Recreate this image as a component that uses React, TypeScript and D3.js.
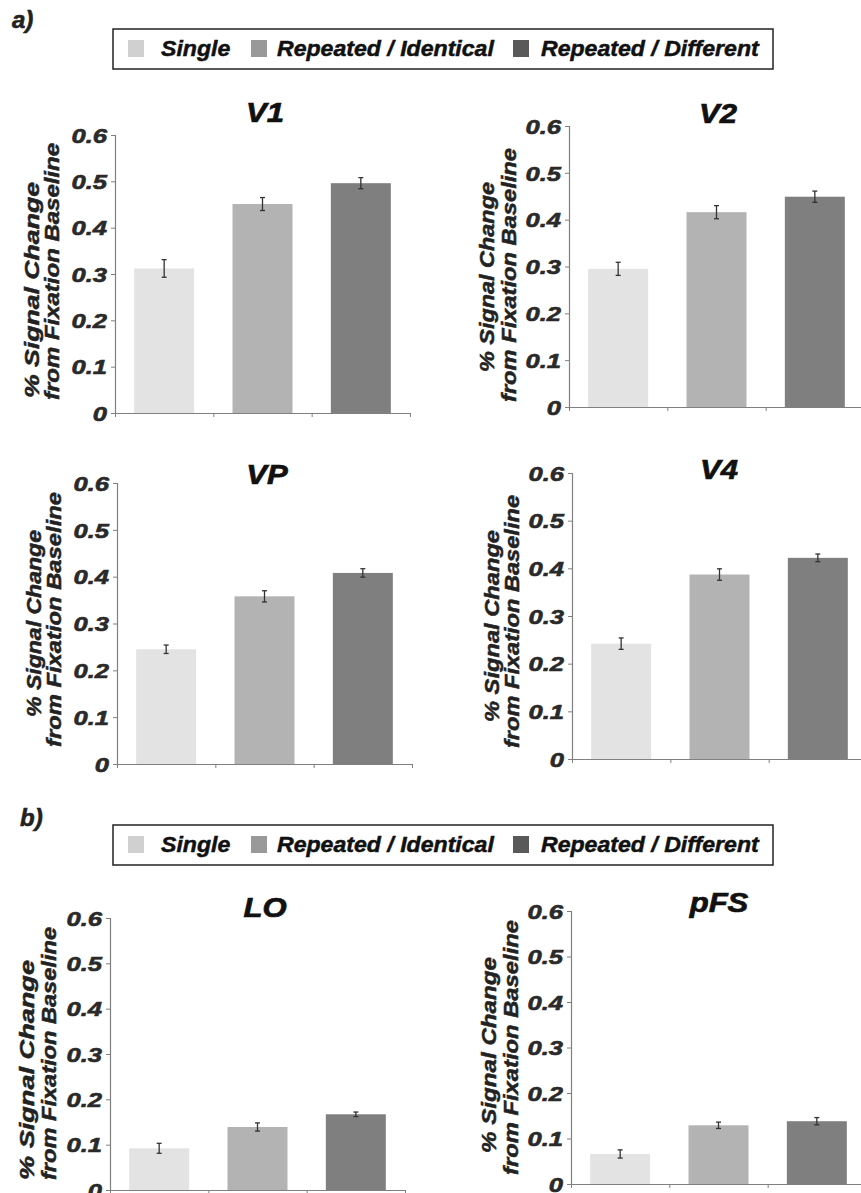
import React, { useEffect, useRef } from 'react';
import * as d3 from 'd3';

// conditions and regions
const categories = ['Single', 'Repeated / Identical', 'Repeated / Different'];
const regions = ['V1', 'V2', 'VP', 'V4', 'LO', 'pFS'];

// mean % signal change
const v1Means = [0.312, 0.451, 0.496];
const v2Means = [0.295, 0.416, 0.449];
const vpMeans = [0.245, 0.358, 0.408];
const v4Means = [0.242, 0.387, 0.422];
const loMeans = [0.092, 0.139, 0.167];
const pfsMeans = [0.066, 0.129, 0.138];

// error bar half-widths
const v1Errors = [0.019, 0.014, 0.012];
const v2Errors = [0.014, 0.014, 0.012];
const vpErrors = [0.009, 0.012, 0.009];
const v4Errors = [0.012, 0.012, 0.008];
const loErrors = [0.011, 0.009, 0.005];
const pfsErrors = [0.009, 0.007, 0.008];

const yTicks = [0, 0.1, 0.2, 0.3, 0.4, 0.5, 0.6];
const yTickLabels = ['0', '0.1', '0.2', '0.3', '0.4', '0.5', '0.6'];
const yLabelLines = ['% Signal Change', 'from Fixation Baseline'];
const sectionLabels = ['a)', 'b)'];

const barColors = ['#e3e3e3', '#b3b3b3', '#7f7f7f'];
const swatchColors = ['#d0d0d0', '#999999', '#595959'];
const FONT = '"Liberation Sans", Arial, sans-serif';
const INK = '#222';

// panel placement in the page
const panels = [
  { means: v1Means, errs: v1Errors, x0: 115, yTop: 135, yZero: 413, titleDx: 150, titleY: 122,
    lab: [[39, 398, 216], [59, 400, 257]] },
  { means: v2Means, errs: v2Errors, x0: 569, yTop: 126, yZero: 407, titleDx: 149, titleY: 123,
    lab: [[494, 372, 190], [516, 402, 254]] },
  { means: vpMeans, errs: vpErrors, x0: 117, yTop: 483, yZero: 764, titleDx: 150, titleY: 484,
    lab: [[41, 717, 187], [61, 747, 255]] },
  { means: v4Means, errs: v4Errors, x0: 572, yTop: 473, yZero: 759, titleDx: 147, titleY: 479,
    lab: [[499, 722, 192], [519, 748, 253]] },
  { means: loMeans, errs: loErrors, x0: 110, yTop: 918, yZero: 1190, titleDx: 155, titleY: 917,
    lab: [[34, 1180, 220], [56, 1180, 253]] },
  { means: pfsMeans, errs: pfsErrors, x0: 571, yTop: 911, yZero: 1184, titleDx: 148, titleY: 912,
    lab: [[496, 1153, 196], [518, 1175, 255]] },
];

const legends = [
  { x: 113, y: 29, label: [12, 28] },
  { x: 113, y: 825, label: [20, 826] },
];

// bold italic text, with a thin outline to mimic the heavier original face
const styleText = (sel: any, size: number, fill: string, weight = 0.5) =>
  sel
    .attr('font-family', FONT)
    .attr('font-weight', 'bold')
    .attr('font-style', 'italic')
    .attr('font-size', size)
    .attr('fill', fill)
    .attr('stroke', fill)
    .attr('stroke-width', weight);

const App = () => {
  const ref = useRef<SVGSVGElement>(null);

  useEffect(() => {
    const svg = d3.select(ref.current);
    svg.selectAll('*').remove();

    // legends + section letters
    legends.forEach((lg, li) => {
      styleText(
        svg.append('text').attr('x', lg.label[0]).attr('y', lg.label[1]),
        24, INK, 0.6
      ).text(sectionLabels[li]);

      const g = svg.append('g').attr('transform', `translate(${lg.x},${lg.y})`);
      g.append('rect')
        .attr('width', 660).attr('height', 40)
        .attr('fill', 'white').attr('stroke', INK).attr('stroke-width', 1.5);
      const swatchX = [15, 138, 400];
      const textX = [48, 164, 428];
      categories.forEach((c, i) => {
        g.append('rect')
          .attr('x', swatchX[i]).attr('y', 11).attr('width', 16).attr('height', 17)
          .attr('fill', swatchColors[i]);
        styleText(
          g.append('text').attr('transform', `translate(${textX[i]},27) scale(1.05,1)`),
          22, '#111', 0.5
        ).text(c);
      });
    });

    panels.forEach((p, pi) => {
      const x = d3.scaleBand<string>()
        .domain(categories)
        .range([p.x0, p.x0 + 295])
        .paddingInner(0.39)
        .paddingOuter(0.195);
      const y = d3.scaleLinear().domain([0, 0.6]).range([p.yZero, p.yTop]);

      const g = svg.append('g');

      // bars
      g.selectAll('rect.bar')
        .data(p.means)
        .enter()
        .append('rect')
        .attr('class', 'bar')
        .attr('x', (_, i) => x(categories[i])!)
        .attr('y', (d) => y(d))
        .attr('width', x.bandwidth())
        .attr('height', (d) => p.yZero - y(d))
        .attr('fill', (_, i) => barColors[i]);

      // error bars
      const eb = g.selectAll('g.err')
        .data(p.means)
        .enter()
        .append('g')
        .attr('class', 'err')
        .attr('transform', (_, i) => `translate(${x(categories[i])! + x.bandwidth() / 2},0)`);
      eb.append('line')
        .attr('y1', (d, i) => y(d - p.errs[i]))
        .attr('y2', (d, i) => y(d + p.errs[i]))
        .attr('stroke', '#333').attr('stroke-width', 1.3);
      [-1, 1].forEach((s) => {
        eb.append('line')
          .attr('x1', -2.5).attr('x2', 2.5)
          .attr('y1', (d, i) => y(d + s * p.errs[i]))
          .attr('y2', (d, i) => y(d + s * p.errs[i]))
          .attr('stroke', '#333').attr('stroke-width', 1.3);
      });

      // y axis
      const yAxis = g.append('g')
        .attr('transform', `translate(${p.x0},0)`)
        .call(d3.axisLeft(y).tickValues(yTicks).tickSize(4).tickFormat((_, i) => yTickLabels[i]));
      yAxis.select('.domain').attr('stroke', '#808080').attr('stroke-width', 1.2);
      yAxis.selectAll('.tick line').attr('stroke', '#808080');
      styleText(
        yAxis.selectAll('.tick text')
          .attr('x', 0).attr('dy', '0.36em')
          .attr('transform', 'translate(-8,0) scale(1.28,1)')
          .attr('text-anchor', 'end'),
        20, '#2a2a2a', 0.6
      );

      // x axis: plain line with ticks at band edges
      const edges = d3.scaleLinear().domain([0, 3]).range([p.x0, p.x0 + 295]);
      const xAxis = g.append('g')
        .attr('transform', `translate(0,${p.yZero})`)
        .call(d3.axisBottom(edges).tickValues([0, 1, 2, 3]).tickSize(4).tickSizeOuter(0).tickFormat(() => ''));
      xAxis.select('.domain').attr('stroke', '#808080').attr('stroke-width', 1.2);
      xAxis.selectAll('.tick line').attr('stroke', '#808080');

      // title
      styleText(
        g.append('text')
          .attr('transform', `translate(${p.x0 + p.titleDx},${p.titleY}) scale(1.15,1)`)
          .attr('text-anchor', 'middle'),
        27, '#111', 0.7
      ).text(regions[pi]);

      // y label, two lines
      p.lab.forEach(([lx, ly, len], li) => {
        styleText(
          g.append('text')
            .attr('transform', `translate(${lx},${ly}) rotate(-90)`)
            .attr('textLength', len)
            .attr('lengthAdjust', 'spacingAndGlyphs'),
          21, INK, 0.5
        ).text(yLabelLines[li]);
      });
    });
  }, []);

  return (
    <svg
      ref={ref}
      width={861}
      height={1193}
      style={{ position: 'absolute', left: 0, top: 0, background: 'white' }}
    />
  );
};

export default App;
